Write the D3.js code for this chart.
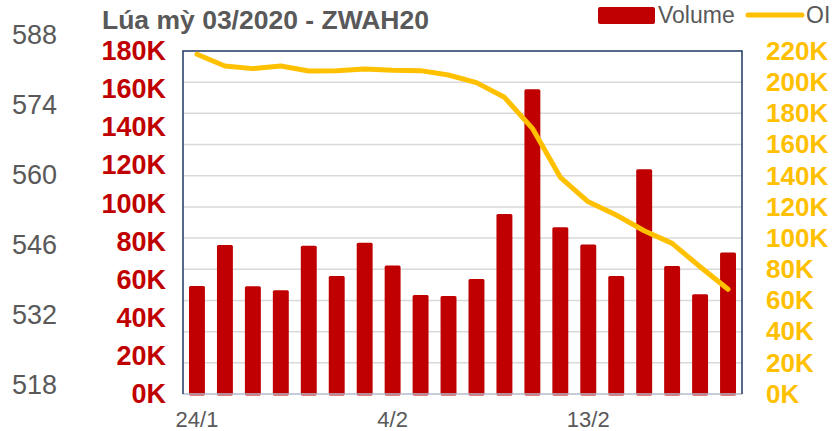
<!DOCTYPE html>
<html>
<head>
<meta charset="utf-8">
<script src="https://cdn.jsdelivr.net/npm/d3@7"></script>
<style>
  body { margin: 0; background: #fff; }
  text { font-family: "Liberation Sans", Arial, sans-serif; }
</style>
</head>
<body>
<svg id="chart" width="833" height="431"></svg>
<script>
  // data
  var dates = ['24/1', '27/1', '28/1', '29/1', '30/1', '31/1', '3/2', '4/2', '5/2', '6/2',
               '7/2', '10/2', '11/2', '12/2', '13/2', '14/2', '18/2', '19/2', '20/2', '21/2'];
  var volume = [56700, 78200, 56500, 54400, 77800, 61900, 79400, 67500, 52000, 51400,
                60300, 94500, 159900, 87500, 78400, 61900, 117900, 67200, 52300, 74200];
  var oi = [217900, 210400, 208700, 210400, 207200, 207400, 208400, 207600, 207400, 204600,
            199700, 190300, 170400, 139000, 123300, 114800, 104700, 96600, 81600, 67200];
  var volumeTicks = [0, 20000, 40000, 60000, 80000, 100000, 120000, 140000, 160000, 180000];
  var oiTicks = [0, 20000, 40000, 60000, 80000, 100000, 120000, 140000, 160000, 180000, 200000, 220000];
  var priceTicks = [518, 532, 546, 560, 574, 588];
  var shownDates = ['24/1', '4/2', '13/2'];

  var svg = d3.select('#chart');
  var plotLeft = 183, plotRight = 742, plotTop = 51, plotBottom = 394;

  var x = d3.scaleBand().domain(dates).range([plotLeft, plotRight]).paddingInner(0.43).paddingOuter(0.215);
  var yVol = d3.scaleLinear().domain([0, 180000]).range([plotBottom, plotTop]);
  var yOi = d3.scaleLinear().domain([0, 220000]).range([plotBottom, plotTop]);
  var yPrice = d3.scaleLinear().domain([518, 588]).range([385, 35]);

  function fmtK(d) { return (d / 1000) + 'K'; }

  // gridlines (follow right axis)
  svg.append('g')
    .selectAll('line')
    .data(oiTicks.slice(1, -1))
    .enter().append('line')
      .attr('x1', plotLeft).attr('x2', plotRight)
      .attr('y1', function(d) { return yOi(d); })
      .attr('y2', function(d) { return yOi(d); })
      .style('stroke', '#d9d9d9')
      .style('stroke-width', 1.5);

  // bars
  svg.append('g')
    .selectAll('rect')
    .data(volume)
    .enter().append('rect')
      .attr('x', function(d, i) { return x(dates[i]); })
      .attr('width', x.bandwidth())
      .attr('y', function(d) { return yVol(d); })
      .attr('height', function(d) { return plotBottom + 1.5 - yVol(d); })
      .attr('rx', 1.5)
      .style('fill', '#c00000');

  // plot frame
  svg.append('line')
    .attr('x1', plotLeft).attr('x2', plotRight).attr('y1', plotBottom).attr('y2', plotBottom)
    .style('stroke', '#b4bccb').style('stroke-width', 1.5);
  svg.append('path')
    .attr('d', 'M' + plotLeft + ',' + plotBottom + 'V' + plotTop + 'H' + plotRight + 'V' + plotBottom)
    .style('fill', 'none').style('stroke', '#1f3864').style('stroke-width', 1.5);

  // OI line
  var line = d3.line()
    .x(function(d, i) { return x(dates[i]) + x.bandwidth() / 2; })
    .y(function(d) { return yOi(d); });
  svg.append('path')
    .datum(oi)
    .attr('d', line)
    .style('fill', 'none')
    .style('stroke', '#ffc000')
    .style('stroke-width', 5)
    .style('stroke-linecap', 'round')
    .style('stroke-linejoin', 'round');

  // axes
  var volAxis = svg.append('g')
    .attr('transform', 'translate(166,0)')
    .call(d3.axisLeft(yVol).tickValues(volumeTicks).tickFormat(fmtK).tickSize(0).tickPadding(0));
  volAxis.select('.domain').remove();
  volAxis.selectAll('text')
    .style('font-size', '27px').style('font-weight', 'bold').style('fill', '#c00000')
    .style('font-family', '"Liberation Sans", Arial, sans-serif');

  var oiAxis = svg.append('g')
    .attr('transform', 'translate(766,0)')
    .call(d3.axisRight(yOi).tickValues(oiTicks).tickFormat(fmtK).tickSize(0).tickPadding(0));
  oiAxis.select('.domain').remove();
  oiAxis.selectAll('text')
    .style('font-size', '26px').style('font-weight', 'bold').style('fill', '#ffc000')
    .style('font-family', '"Liberation Sans", Arial, sans-serif');

  var priceAxis = svg.append('g')
    .attr('transform', 'translate(57,0)')
    .call(d3.axisLeft(yPrice).tickValues(priceTicks).tickSize(0).tickPadding(0));
  priceAxis.select('.domain').remove();
  priceAxis.selectAll('text')
    .style('font-size', '27px').style('fill', '#595959')
    .style('font-family', '"Liberation Sans", Arial, sans-serif');

  var xAxis = svg.append('g')
    .attr('transform', 'translate(0,' + plotBottom + ')')
    .call(d3.axisBottom(x).tickValues(shownDates).tickSize(0).tickPadding(0));
  xAxis.select('.domain').remove();
  xAxis.selectAll('text')
    .attr('dy', null).attr('y', 33)
    .style('font-size', '22px').style('fill', '#595959')
    .style('font-family', '"Liberation Sans", Arial, sans-serif');

  // title
  svg.append('text')
    .attr('x', 102).attr('y', 29)
    .style('font-size', '26.5px').style('font-weight', 'bold').style('fill', '#595959')
    .text('Lúa mỳ 03/2020 - ZWAH20');

  // legend
  var legend = svg.append('g');
  legend.append('rect')
    .attr('x', 598).attr('y', 7).attr('width', 57).attr('height', 17).attr('rx', 2)
    .style('fill', '#c00000');
  legend.append('text')
    .attr('x', 658).attr('y', 23)
    .style('font-size', '23px').style('fill', '#595959')
    .text('Volume');
  legend.append('line')
    .attr('x1', 748).attr('x2', 802).attr('y1', 15).attr('y2', 15)
    .style('stroke', '#ffc000').style('stroke-width', 5).style('stroke-linecap', 'round');
  legend.append('text')
    .attr('x', 806).attr('y', 23)
    .style('font-size', '23px').style('fill', '#595959')
    .text('OI');
</script>
</body>
</html>
